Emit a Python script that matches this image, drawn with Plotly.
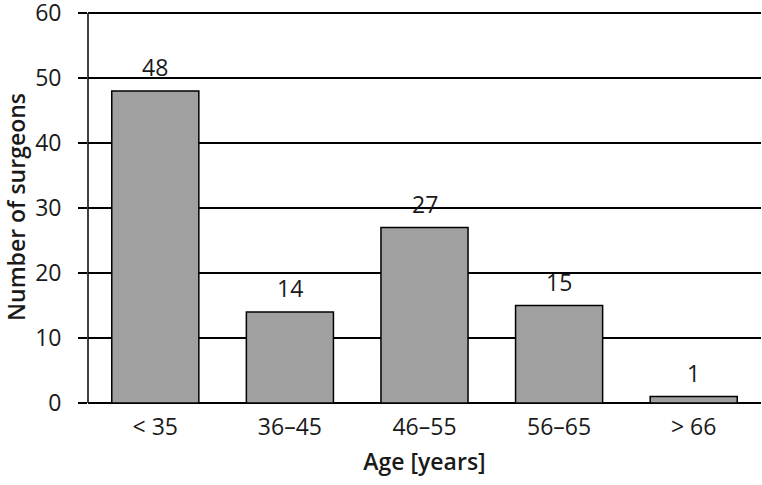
import plotly.graph_objects as go

categories = ["< 35", "36–45", "46–55", "56–65", "> 66"]
values = [48, 14, 27, 15, 1]
y_ticks = [0, 10, 20, 30, 40, 50, 60]

font_family = "Open Sans, Noto Sans, sans-serif"
txt_color = "#1a1a1a"

fig = go.Figure(
    go.Bar(
        x=categories,
        y=values,
        width=0.647,
        marker=dict(color="#a0a0a0", line=dict(color="#000000", width=1.5)),
        cliponaxis=False,
        hoverinfo="skip",
    )
)

for c, v in zip(categories, values):
    fig.add_annotation(
        x=c, y=v, text=str(v), showarrow=False, yanchor="bottom", yshift=6,
        font=dict(family=font_family, size=23, color=txt_color),
    )

fig.update_layout(
    width=762,
    height=485,
    margin=dict(l=88, r=1, t=11, b=82),
    paper_bgcolor="white",
    plot_bgcolor="white",
    showlegend=False,
    font=dict(family=font_family, size=23, color=txt_color),
)

fig.update_xaxes(
    title=dict(text="Age [years]", font=dict(family=font_family, size=23, color=txt_color, weight=600), standoff=12),
    automargin=False,
    showgrid=False,
    showline=False,
    ticks="",
    tickfont=dict(family=font_family, size=23, color=txt_color),
    ticklabelstandoff=8,
)

fig.update_yaxes(
    title=dict(text="Number of surgeons", font=dict(family=font_family, size=23, color=txt_color, weight=600), standoff=12),
    automargin=False,
    range=[0, 60.31],
    tickmode="array",
    tickvals=y_ticks,
    ticktext=[str(t) + "  " for t in y_ticks],
    ticklabeloverflow="allow",
    showgrid=True,
    gridcolor="#000000",
    gridwidth=1.5,
    zeroline=True,
    zerolinecolor="#000000",
    zerolinewidth=1.5,
    showline=False,
    ticks="outside",
    ticklen=9,
    tickwidth=1.5,
    tickcolor="#000000",
    tickfont=dict(family=font_family, size=23, color=txt_color),
)

# left axis line from 0 to the top tick
fig.add_shape(
    type="line", xref="paper", yref="y", x0=0, x1=0, y0=y_ticks[0], y1=y_ticks[-1],
    line=dict(color="#000000", width=1.5), layer="above",
)

fig.write_html(
    "out.html",
    config={"displayModeBar": False},
    post_script="document.body.style.margin='0';document.body.style.overflow='hidden';",
)
